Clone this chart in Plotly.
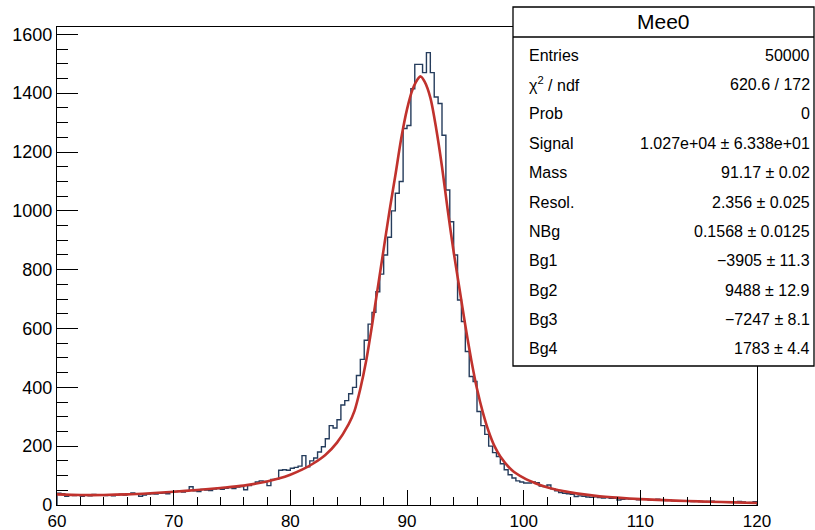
import numpy as np
import plotly.graph_objects as go

# ---- data ----
x_min, x_max, n_bins = 60.0, 120.0, 180
counts = [
    40, 38, 30, 33, 32, 34,
    30, 33, 31, 36, 35, 33,
    32, 33, 31, 35, 37, 34,
    38, 41, 36, 30, 34, 37,
    38, 37, 40, 41, 38, 43,
    46, 47, 44, 49, 62, 48,
    46, 53, 51, 49, 54, 56,
    53, 57, 59, 56, 61, 63,
    52, 66, 70, 78, 82, 80,
    66, 87, 88, 118, 120, 118,
    125, 128, 132, 168, 130, 150,
    160, 180, 198, 225, 270, 262,
    290, 340, 355, 378, 400, 440,
    495, 560, 615, 655, 725, 785,
    850, 910, 1000, 1060, 1100, 1280,
    1290, 1415, 1498, 1498, 1470, 1538,
    1470, 1387, 1365, 1257, 1071, 963,
    850, 697, 624, 522, 437, 420,
    318, 270, 240, 200, 178, 165,
    140, 120, 103, 92, 82, 78,
    75, 75, 78, 76, 64, 63,
    68, 55, 48, 42, 40, 38,
    36, 29, 31, 30, 27, 26,
    28, 25, 24, 25, 23, 24,
    17, 19, 21, 20, 19, 18,
    20, 19, 17, 18, 20, 16,
    15, 16, 14, 15, 13, 14,
    13, 12, 14, 12, 11, 12,
    13, 11, 10, 11, 10, 9,
    9, 12, 10, 8, 9, 11,
]

fit_x = [60, 62, 64, 66, 68, 70, 72, 74, 76, 78, 79, 80, 81, 82, 83, 84, 85, 85.5,
         86, 86.5, 87, 87.5, 88, 88.5, 89, 89.5, 90, 90.5, 91, 91.17, 91.5, 92,
         92.5, 93, 93.5, 94, 94.5, 95, 95.5, 96, 96.5, 97, 97.5, 98, 99, 100,
         101, 102, 103, 104, 105, 106, 107, 108, 110, 112, 114, 116, 118, 120]
fit_y = [36, 34, 34, 36, 40, 45, 51, 58, 66, 80, 90, 103, 120, 142, 170, 212, 275, 320,
         395, 490, 610, 740, 870, 1000, 1120, 1245, 1345, 1415, 1452, 1457, 1440, 1385,
         1280, 1150, 1000, 860, 735, 610, 495, 395, 315, 250, 200, 165, 118, 92,
         74, 60, 50, 43, 37, 32, 28, 25, 20, 16.5, 13.5, 11, 9, 7]

x_ticks = [60, 70, 80, 90, 100, 110, 120]
y_ticks = [0, 200, 400, 600, 800, 1000, 1200, 1400, 1600]

stat_title = "Mee0"
stat_labels = ["Entries", "χ<sup>2</sup> / ndf", "Prob", "Signal", "Mass", "Resol.",
               "NBg", "Bg1", "Bg2", "Bg3", "Bg4"]
stat_values = ["50000", "620.6 / 172", "0", "1.027e+04 ± 6.338e+01", "91.17 ± 0.02",
               "2.356 ± 0.025", "0.1568 ± 0.0125", "−3905 ± 11.3", "9488 ± 12.9",
               "−7247 ± 8.1", "1783 ± 4.4"]

# ---- figure ----
edges = np.linspace(x_min, x_max, n_bins + 1)
hx = [edges[0]] + list(edges) + [edges[-1]]
hy = [0] + list(counts) + [counts[-1], 0]

FONT = "Liberation Sans, Arial, Helvetica, sans-serif"
fig = go.Figure()
fig.add_trace(go.Scatter(x=hx, y=hy, mode="lines", line=dict(color="#253c5c", width=1.4, shape="hv"),
                         hoverinfo="skip", showlegend=False))
fig.add_trace(go.Scatter(x=fit_x, y=fit_y, mode="lines",
                         line=dict(color="#c0322d", width=2.6, shape="spline", smoothing=0.8),
                         showlegend=False))

W, H = 815, 530
ml, mr, mt, mb = 57, 58, 27, 25
fig.update_layout(
    width=W, height=H,
    margin=dict(l=ml, r=mr, t=mt, b=mb, pad=0, autoexpand=False),
    paper_bgcolor="white", plot_bgcolor="white",
    font=dict(family=FONT, color="black", size=17),
)
fig.update_xaxes(range=[x_min, x_max], tickvals=x_ticks, ticks="inside", ticklen=15, tickwidth=1.3,
                 tickcolor="black", showline=True, linecolor="black", linewidth=1.3, mirror=True,
                 showgrid=False, zeroline=False, tickfont=dict(size=17, family=FONT), automargin=False,
                 minor=dict(dtick=2, ticks="inside", ticklen=8, tickwidth=1.1, tickcolor="black"))
fig.update_yaxes(range=[0, 1625], tickvals=y_ticks, ticks="inside", ticklen=21, tickwidth=1.3,
                 tickcolor="black", showline=True, linecolor="black", linewidth=1.3, mirror=True,
                 showgrid=False, zeroline=False, tickfont=dict(size=18, family=FONT), automargin=False,
                 minor=dict(dtick=50, ticks="inside", ticklen=11, tickwidth=1.1, tickcolor="black"))

pw = W - ml - mr
ph = H - mt - mb
def px2x(px):
    return (px - ml) / pw
def py2y(py):
    return (H - mb - py) / ph

box_l, box_r, box_t, box_b = 513, 814, 7, 366
sep = 37
fig.add_shape(type="rect", xref="paper", yref="paper", x0=px2x(box_l), x1=px2x(box_r),
              y0=py2y(box_b), y1=py2y(box_t), fillcolor="white",
              line=dict(color="black", width=1.3), layer="above")
fig.add_shape(type="line", xref="paper", yref="paper", x0=px2x(box_l), x1=px2x(box_r),
              y0=py2y(sep), y1=py2y(sep), line=dict(color="black", width=1.3), layer="above")
fig.add_annotation(xref="paper", yref="paper", x=px2x((box_l + box_r) / 2), y=py2y(22),
                   text=stat_title, showarrow=False, font=dict(size=21, family=FONT),
                   xanchor="center", yanchor="middle")
row0, dy = 55, 29.4
for i, (lab, val) in enumerate(zip(stat_labels, stat_values)):
    yy = py2y(row0 + i * dy)
    fig.add_annotation(xref="paper", yref="paper", x=px2x(527), y=yy, text=lab, showarrow=False,
                       font=dict(size=16, family=FONT), xanchor="left", yanchor="middle")
    fig.add_annotation(xref="paper", yref="paper", x=px2x(812), y=yy, text=val, showarrow=False,
                       font=dict(size=16, family=FONT), xanchor="right", yanchor="middle")

fig.write_html("out.html", config={"displayModeBar": False},
               post_script="document.body.style.margin='0px';document.body.style.padding='0px';")
